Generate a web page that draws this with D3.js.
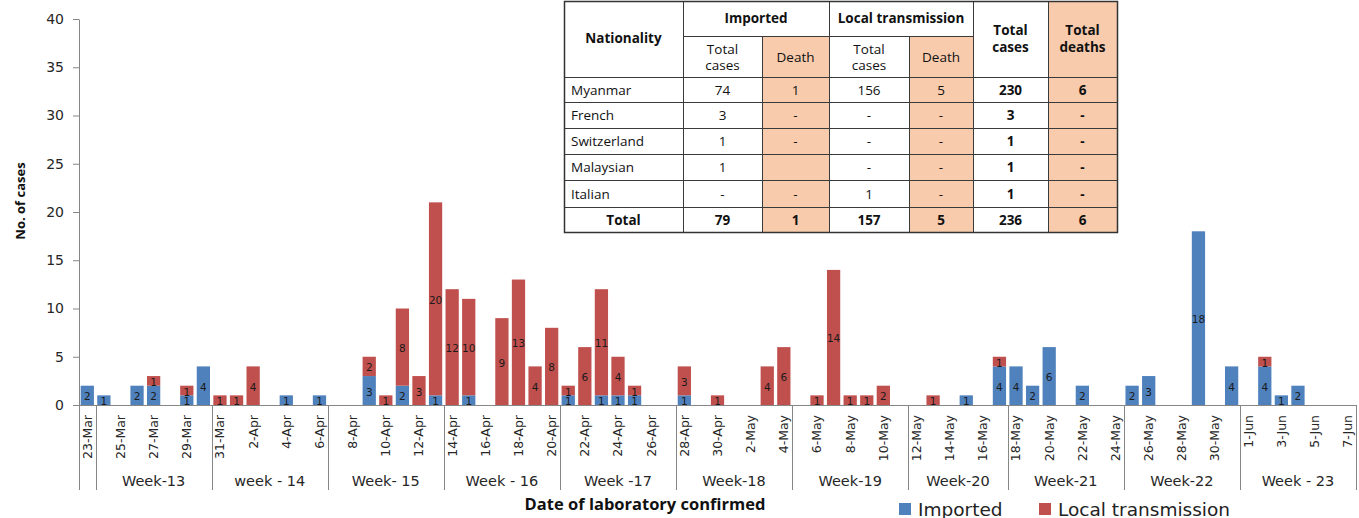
<!DOCTYPE html>
<html>
<head>
<meta charset="utf-8">
<script src="https://cdn.jsdelivr.net/npm/d3@7"></script>
<style>
  body { margin: 0; background: #fff; }
  svg { display: block; font-family: "DejaVu Sans", Verdana, sans-serif; }
  .axis path, .axis line { stroke: #868686; }
  .axis text { fill: #262626; }
  .bar-label { font-size: 10.5px; fill: #1a1a1a; }
  .tbl text { font-family: "Open Sans", sans-serif; font-size: 13.5px; fill: #111; }
  .tbl .b { font-weight: bold; }
</style>
</head>
<body>
<svg id="chart"></svg>
<script>
// categories: one per day, 23-Mar .. 7-Jun
const dates = [
  "23-Mar","24-Mar","25-Mar","26-Mar","27-Mar","28-Mar","29-Mar","30-Mar","31-Mar",
  "1-Apr","2-Apr","3-Apr","4-Apr","5-Apr","6-Apr","7-Apr","8-Apr","9-Apr","10-Apr",
  "11-Apr","12-Apr","13-Apr","14-Apr","15-Apr","16-Apr","17-Apr","18-Apr","19-Apr","20-Apr",
  "21-Apr","22-Apr","23-Apr","24-Apr","25-Apr","26-Apr","27-Apr","28-Apr","29-Apr","30-Apr",
  "1-May","2-May","3-May","4-May","5-May","6-May","7-May","8-May","9-May","10-May",
  "11-May","12-May","13-May","14-May","15-May","16-May","17-May","18-May","19-May","20-May",
  "21-May","22-May","23-May","24-May","25-May","26-May","27-May","28-May","29-May","30-May",
  "31-May","1-Jun","2-Jun","3-Jun","4-Jun","5-Jun","6-Jun","7-Jun"
];

const imported = [
  2,1,0,2,2,0,1,4,0,
  0,0,0,1,0,1,0,0,3,0,
  2,0,1,0,1,0,0,0,0,0,
  1,0,1,1,1,0,0,1,0,0,
  0,0,0,0,0,0,0,0,0,0,
  0,0,0,0,1,0,4,4,2,6,
  0,2,0,0,2,3,0,0,18,0,
  4,0,4,1,2,0,0,0
];

const local = [
  0,0,0,0,1,0,1,0,1,
  1,4,0,0,0,0,0,0,2,1,
  8,3,20,12,10,0,9,13,4,8,
  1,6,11,4,1,0,0,3,0,1,
  0,0,4,6,0,1,14,1,1,2,
  0,0,1,0,0,0,1,0,0,0,
  0,0,0,0,0,0,0,0,0,0,
  0,0,1,0,0,0,0,0
];

// week groups below the dates
const weekNames   = ["", "Week-13", "week - 14", "Week- 15", "Week - 16", "Week -17",
                     "Week-18", "Week-19", "Week-20", "Week-21", "Week-22", "Week - 23"];
const weekLengths = [1, 7, 7, 7, 7, 7, 7, 7, 6, 7, 7, 7];

const yTicks = [0, 5, 10, 15, 20, 25, 30, 35, 40];
const seriesNames = ["Imported", "Local transmission"];
const colors = ["#4F81BD", "#C0504D"];

// summary table
const nationalities  = ["Myanmar", "French", "Switzerland", "Malaysian", "Italian"];
const importedCases  = ["74", "3", "1", "1", "-"];
const importedDeaths = ["1", "-", "-", "", "-"];
const localCases     = ["156", "-", "-", "-", "1"];
const localDeaths    = ["5", "-", "-", "-", "-"];
const totalCases     = ["230", "3", "1", "1", "1"];
const totalDeaths    = ["6", "-", "-", "-", "-"];
const totalRow       = ["Total", "79", "1", "157", "5", "236", "6"];

const width = 1359, height = 518;
const plotLeft = 79, plotRight = 1356, plotTop = 19, plotBottom = 405;

const svg = d3.select('#chart').attr('width', width).attr('height', height);

const xScale = d3.scaleBand()
    .domain(dates)
    .range([plotLeft, plotRight])
    .paddingInner(0.2)
    .paddingOuter(0.1);
const step = xScale.step();

const yScale = d3.scaleLinear()
    .domain([0, 40])
    .range([plotBottom, plotTop]);

// stacked data
const rows = dates.map((d, i) => ({date: d, imported: imported[i], local: local[i]}));
const stack = d3.stack().keys(['imported', 'local']);
const layers = stack(rows);

const layerG = svg.selectAll('.layer')
    .data(layers)
  .join('g')
    .attr('class', 'layer')
    .attr('fill', (d, i) => colors[i]);

layerG.selectAll('rect')
    .data(d => d.filter(s => s[1] - s[0] > 0))
  .join('rect')
    .attr('x', d => xScale(d.data.date))
    .attr('width', xScale.bandwidth())
    .attr('y', d => yScale(d[1]))
    .attr('height', d => yScale(d[0]) - yScale(d[1]));

layerG.selectAll('text')
    .data(d => d.filter(s => s[1] - s[0] > 0))
  .join('text')
    .attr('class', 'bar-label')
    .attr('x', d => xScale(d.data.date) + xScale.bandwidth() / 2)
    .attr('y', d => (yScale(d[0]) + yScale(d[1])) / 2 + 1)
    .attr('text-anchor', 'middle')
    .attr('dominant-baseline', 'central')
    .text(d => d[1] - d[0]);

// y axis
const yAxis = d3.axisLeft(yScale)
    .tickValues(yTicks)
    .tickSize(6)
    .tickSizeOuter(0)
    .tickPadding(9);

const yAxisG = svg.append('g')
    .attr('class', 'axis y-axis')
    .attr('transform', `translate(${plotLeft},0)`)
    .call(yAxis);
yAxisG.selectAll('text').style('font-size', '14px').style('font-family', '"DejaVu Sans", sans-serif');

// x axis, a label on every other day
const xAxis = d3.axisBottom(xScale)
    .tickValues(dates.filter((d, i) => i % 2 === 0))
    .tickSize(0)
    .tickSizeOuter(0);

const xAxisG = svg.append('g')
    .attr('class', 'axis x-axis')
    .attr('transform', `translate(0,${plotBottom})`)
    .call(xAxis);
xAxisG.select('.domain').attr('d', `M${plotLeft},0.5H${plotRight}`);
xAxisG.selectAll('text')
    .attr('transform', 'rotate(-90)')
    .attr('x', -10)
    .attr('y', 0)
    .attr('dy', '0.35em')
    .style('text-anchor', 'end')
    .style('font-size', '12.5px')
    .style('font-family', '"DejaVu Sans", sans-serif');

// week separators and names
let start = 0;
const weeks = weekNames.map((name, i) => {
  const w = {name: name, x0: plotLeft + start * step, x1: plotLeft + (start + weekLengths[i]) * step};
  start += weekLengths[i];
  return w;
});

const sepX = [plotLeft].concat(weeks.map(w => w.x1));
svg.append('g')
    .selectAll('line')
    .data(sepX)
  .join('line')
    .attr('x1', d => Math.round(d) + 0.5)
    .attr('x2', d => Math.round(d) + 0.5)
    .attr('y1', plotBottom)
    .attr('y2', 490)
    .attr('stroke', '#868686');

svg.append('g')
    .selectAll('text')
    .data(weeks)
  .join('text')
    .attr('x', d => (d.x0 + d.x1) / 2)
    .attr('y', 486)
    .attr('text-anchor', 'middle')
    .style('font-size', '14.5px')
    .attr('fill', '#262626')
    .text(d => d.name);

// axis titles
svg.append('text')
    .attr('transform', 'translate(25,201) rotate(-90)')
    .attr('text-anchor', 'middle')
    .style('font-family', '"Liberation Sans Narrow", "Open Sans", sans-serif')
    .style('font-weight', 'bold')
    .style('font-size', '13px')
    .attr('fill', '#111')
    .text('No. of cases');

svg.append('text')
    .attr('x', 645)
    .attr('y', 510)
    .attr('text-anchor', 'middle')
    .style('font-family', '"Open Sans", sans-serif')
    .style('font-weight', 'bold')
    .style('font-size', '16.5px')
    .attr('fill', '#111')
    .text('Date of laboratory confirmed');

// legend
const legend = svg.append('g')
    .selectAll('g')
    .data(seriesNames)
  .join('g')
    .attr('transform', (d, i) => `translate(${[899, 1039][i]},503)`);
legend.append('rect')
    .attr('width', 12)
    .attr('height', 12)
    .attr('fill', (d, i) => colors[i]);
legend.append('text')
    .attr('x', 19)
    .attr('y', 12.5)
    .style('font-size', '18.5px')
    .attr('fill', '#222')
    .text(d => d);

// table in the top right corner
const peach = '#F8CBAD';
const cx = [564, 683, 762, 829, 909, 973, 1048, 1117];
const ry = [1, 36, 77, 102, 128, 154, 180, 207, 232];
const tbl = svg.append('g').attr('class', 'tbl');

function cell(c0, c1, r0, r1, fill) {
  tbl.append('rect')
      .attr('x', cx[c0] + 0.5)
      .attr('y', ry[r0] + 0.5)
      .attr('width', cx[c1] - cx[c0])
      .attr('height', ry[r1] - ry[r0])
      .attr('fill', fill)
      .attr('stroke', '#3a3a3a')
      .attr('stroke-width', 1);
}
function label(txt, x, y, bold, anchor) {
  tbl.append('text')
      .attr('x', x)
      .attr('y', y)
      .attr('class', bold ? 'b' : null)
      .attr('text-anchor', anchor || 'middle')
      .attr('dominant-baseline', 'central')
      .text(txt);
}
const mid = (a, b) => (a + b) / 2;

// header
cell(0, 1, 0, 2, '#fff');
cell(1, 3, 0, 1, '#fff');
cell(3, 5, 0, 1, '#fff');
cell(5, 6, 0, 2, '#fff');
cell(6, 7, 0, 2, peach);
cell(1, 2, 1, 2, '#fff');
cell(2, 3, 1, 2, peach);
cell(3, 4, 1, 2, '#fff');
cell(4, 5, 1, 2, peach);
label('Nationality', mid(cx[0], cx[1]), 38, true);
label('Imported', mid(cx[1], cx[3]), 18, true);
label('Local transmission', mid(cx[3], cx[5]), 18, true);
label('Total', mid(cx[5], cx[6]), 30, true);
label('cases', mid(cx[5], cx[6]), 47, true);
label('Total', mid(cx[6], cx[7]), 30, true);
label('deaths', mid(cx[6], cx[7]), 47, true);
[1, 3].forEach(c => {
  label('Total', mid(cx[c], cx[c + 1]), 48.5);
  label('cases', mid(cx[c], cx[c + 1]), 65);
  label('Death', mid(cx[c + 1], cx[c + 2]), 56.5);
});

// body rows
const bodyCols = [importedCases, importedDeaths, localCases, localDeaths, totalCases, totalDeaths];
nationalities.forEach((n, r) => {
  const y0 = ry[r + 2], y1 = ry[r + 3];
  cell(0, 1, r + 2, r + 3, '#fff');
  label(n, cx[0] + 7, mid(y0, y1), false, 'start');
  bodyCols.forEach((col, j) => {
    const c = j + 1;
    cell(c, c + 1, r + 2, r + 3, c % 2 === 0 ? peach : '#fff');
    label(col[r], mid(cx[c], cx[c + 1]), mid(y0, y1), c >= 5);
  });
});

// total row
totalRow.forEach((v, c) => {
  cell(c, c + 1, 7, 8, c > 0 && c % 2 === 0 ? peach : '#fff');
  label(v, mid(cx[c], cx[c + 1]), mid(ry[7], ry[8]), true);
});

// outer frame
tbl.append('rect')
    .attr('x', cx[0] + 0.5)
    .attr('y', ry[0] + 0.5)
    .attr('width', cx[7] - cx[0])
    .attr('height', ry[8] - ry[0])
    .attr('fill', 'none')
    .attr('stroke', '#333')
    .attr('stroke-width', 1.5);
</script>
</body>
</html>
